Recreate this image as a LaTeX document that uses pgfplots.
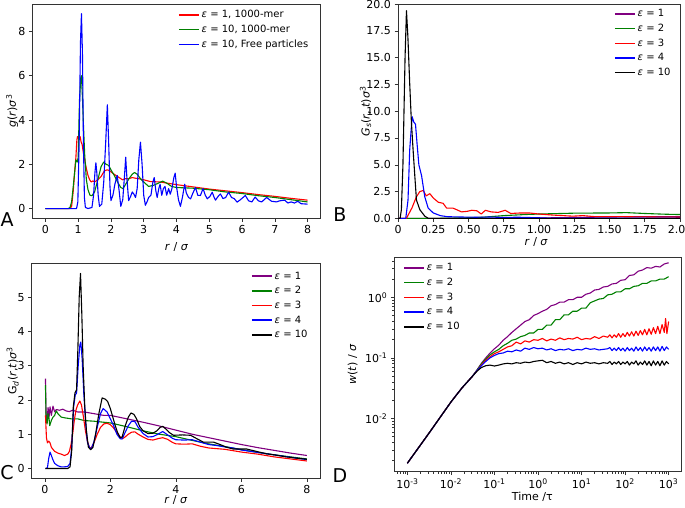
\documentclass[border=0pt]{standalone}
\usepackage{fontspec}
\setmainfont{DejaVu Sans}
\usepackage{pgfplots}
\pgfplotsset{compat=1.18}
\definecolor{mplgreen}{RGB}{0,128,0}
\definecolor{mplpurple}{RGB}{128,0,128}
\pgfplotsset{
 panel/.style={
  scale only axis,
  axis line style={black!80, line width=0.6pt},
  tick style={black!80, line width=0.6pt},
  tick align=outside,
  major tick length=3.5pt,
  minor tick length=2pt,
  xtick pos=left, ytick pos=left,
  /pgf/number format/assume math mode=true,
  tick label style={font=\fontsize{11}{13}\selectfont},
  label style={font=\fontsize{11}{13}\selectfont},
  every axis plot/.append style={line width=1.1pt, line join=round},
  legend style={draw=none, fill=none, font=\fontsize{10}{12}\selectfont, row sep=1.8pt},
  legend cell align=left,
  legend image code/.code={\draw[##1, line width=1.6pt] (0pt,0pt) -- (20pt,0pt);},
 }
}
\begin{document}
\begin{tikzpicture}[x=1pt,y=1pt]
\useasboundingbox (0pt,0pt) rectangle (685pt,507pt);
% ---------------- Panel A ----------------
\begin{axis}[panel, at={(32.3pt,288.7pt)}, anchor=south west, width=288.4pt, height=214.3pt,
  xmin=-0.4, xmax=8.4, ymin=-0.44, ymax=9.24,
  xtick={0,1,2,3,4,5,6,7,8}, ytick={0,2,4,6,8},
  xlabel={\textit{r} / \textit{σ}}, ylabel={\textit{g}(\textit{r})\textit{σ}\textsuperscript{3}},
  xlabel style={at={(axis description cs:0.5,-0.134)}, anchor=center},
  ylabel style={at={(axis description cs:-0.07,0.5)}, anchor=center},
  legend style={at={(0.975,0.99)}, anchor=north east}]
\addplot[red] coordinates {(0,0) (0.5,0) (0.75,0) (0.8,0.1) (0.85,0.8) (0.9,1.8) (0.93,2.3) (0.96,3.1) (0.98,3.25) (1.0,3.2) (1.03,3.1) (1.06,3.25) (1.09,3.0) (1.12,2.9) (1.16,2.5) (1.2,2.2) (1.25,1.8) (1.3,1.5) (1.35,1.3) (1.4,1.2) (1.45,1.25) (1.5,1.2) (1.55,1.25) (1.6,1.3) (1.7,1.45) (1.8,1.7) (1.88,1.75) (1.95,1.72) (2.05,1.6) (2.15,1.5) (2.25,1.4) (2.35,1.3) (2.45,1.35) (2.55,1.35) (2.65,1.4) (2.75,1.37) (2.85,1.35) (3.0,1.3) (3.2,1.22) (3.5,1.2) (4.0,1.08) (4.5,0.98) (5.0,0.88) (5.5,0.8) (6.0,0.72) (6.5,0.63) (7.0,0.55) (7.5,0.46) (8.0,0.38)};
\addlegendentry{\textit{ε} = 1, 1000-mer}
\addplot[mplgreen] coordinates {(0,0) (0.7,0) (0.75,0.05) (0.8,0.3) (0.85,1.0) (0.89,1.6) (0.93,2.2) (0.97,2.1) (1.0,2.3) (1.04,4.9) (1.08,5.9) (1.1,6.0) (1.13,5.0) (1.16,3.8) (1.2,2.4) (1.25,1.3) (1.3,0.85) (1.36,0.6) (1.42,0.58) (1.5,0.75) (1.6,1.3) (1.7,1.9) (1.78,2.1) (1.85,2.0) (1.93,1.95) (2.0,1.75) (2.1,1.5) (2.2,1.2) (2.3,0.95) (2.37,0.9) (2.45,1.1) (2.55,1.35) (2.65,1.55) (2.72,1.63) (2.8,1.55) (2.9,1.35) (3.0,1.2) (3.15,1.0) (3.3,1.05) (3.45,1.15) (3.58,1.24) (3.7,1.15) (3.85,1.0) (4.0,0.95) (4.5,0.92) (5.0,0.85) (5.5,0.75) (6.0,0.68) (6.5,0.58) (7.0,0.5) (7.5,0.4) (8.0,0.3)};
\addlegendentry{\textit{ε} = 10, 1000-mer}
\addplot[blue] coordinates {(0,0) (0.95,0) (0.99,0.3) (1.03,3.0) (1.07,7.5) (1.1,8.8) (1.13,7.0) (1.16,3.0) (1.19,0.5) (1.22,0.05) (1.3,0) (1.42,0.05) (1.47,0.6) (1.51,1.6) (1.54,2.07) (1.57,1.6) (1.61,0.6) (1.65,0.1) (1.72,0.2) (1.78,1.2) (1.84,3.0) (1.89,4.69) (1.93,3.0) (1.97,1.0) (2.0,0.36) (2.06,0.6) (2.12,1.1) (2.19,1.5) (2.25,0.8) (2.3,0.1) (2.36,0.4) (2.41,1.4) (2.45,2.32) (2.49,1.3) (2.54,0.36) (2.6,0.55) (2.65,0.75) (2.7,0.65) (2.75,0.5) (2.8,0.9) (2.85,2.2) (2.9,3.0) (2.95,2.0) (3.0,0.6) (3.05,0.15) (3.1,0.3) (3.15,0.5) (3.22,0.6) (3.28,1.2) (3.32,1.4) (3.37,0.8) (3.41,0.5) (3.46,0.9) (3.5,1.1) (3.55,0.6) (3.6,0.9) (3.65,1.0) (3.7,0.6) (3.76,0.9) (3.81,0.65) (3.86,0.9) (3.92,1.4) (3.96,1.6) (4.0,1.0) (4.06,0.4) (4.12,0.1) (4.18,0.5) (4.25,1.1) (4.3,0.7) (4.37,0.5) (4.43,0.44) (4.5,0.7) (4.58,0.95) (4.65,0.6) (4.73,0.59) (4.81,0.9) (4.88,0.6) (4.94,0.44) (5.02,0.55) (5.09,0.74) (5.15,0.5) (5.19,0.38) (5.27,0.55) (5.34,0.66) (5.42,0.45) (5.5,0.5) (5.59,0.74) (5.68,0.5) (5.76,0.45) (5.85,0.29) (5.95,0.4) (6.1,0.59) (6.2,0.35) (6.3,0.3) (6.4,0.52) (6.5,0.35) (6.6,0.3) (6.75,0.5) (6.9,0.33) (7.05,0.3) (7.15,0.35) (7.3,0.38) (7.4,0.25) (7.5,0.3) (7.6,0.25) (7.7,0.33) (7.8,0.22) (7.89,0.21) (8.0,0.2)};
\addlegendentry{\textit{ε} = 10, Free particles}
\end{axis}
% ---------------- Panel B ----------------
\begin{axis}[panel, at={(398pt,288.7pt)}, anchor=south west, width=282pt, height=214pt,
  xmin=0, xmax=2, ymin=0, ymax=20,
  xtick={0,0.25,0.5,0.75,1,1.25,1.5,1.75,2},
  xticklabels={0,0.25,0.50,0.75,1.00,1.25,1.50,1.75,2.00},
  ytick={0,2.5,5,7.5,10,12.5,15,17.5,20},
  yticklabels={0.0,2.5,5.0,7.5,10.0,12.5,15.0,17.5,20.0},
  xlabel={\textit{r} / \textit{σ}}, ylabel={\textit{G}\textsubscript{\textit{s}}(\textit{r}, \textit{t})\textit{σ}\textsuperscript{3}},
  xlabel style={at={(axis description cs:0.49,-0.11)}, anchor=center},
  ylabel style={at={(axis description cs:-0.115,0.5)}, anchor=center},
  legend style={at={(0.985,0.995)}, anchor=north east}]
\addplot[mplpurple] coordinates {(0,0) (0.8,0) (1.0,0.03) (1.25,0.08) (1.5,0.12) (1.75,0.15) (2.0,0.15)};
\addlegendentry{\textit{ε} = 1}
\addplot[mplgreen] coordinates {(0,0) (0.3,0) (0.5,0.05) (0.6,0.1) (0.75,0.25) (0.9,0.35) (1.0,0.4) (1.25,0.48) (1.5,0.5) (1.62,0.53) (1.75,0.45) (1.9,0.38) (2.0,0.35)};
\addlegendentry{\textit{ε} = 2}
\addplot[red] coordinates {(0,0) (0.06,0) (0.1,1.0) (0.13,2.0) (0.155,2.5) (0.179,2.6) (0.2,2.1) (0.226,2.3) (0.25,1.9) (0.286,1.5) (0.32,1.4) (0.345,0.95) (0.39,0.95) (0.417,0.8) (0.45,0.6) (0.49,0.65) (0.524,0.75) (0.56,0.7) (0.59,0.4) (0.62,0.75) (0.66,0.6) (0.71,0.55) (0.76,0.75) (0.8,0.45) (0.87,0.5) (0.93,0.5) (1.0,0.4) (1.05,0.35) (1.1,0.3) (1.24,0.2) (1.31,0.25) (1.4,0.15) (1.6,0.15) (1.8,0.12) (2.0,0.1)};
\addlegendentry{\textit{ε} = 3}
\addplot[blue] coordinates {(0,0) (0.055,0) (0.071,1.7) (0.083,6.4) (0.1,9.5) (0.112,9.0) (0.124,8.8) (0.135,7.0) (0.148,5.0) (0.167,4.0) (0.19,2.0) (0.214,0.95) (0.25,0.5) (0.3,0.25) (0.35,0.15) (0.45,0.12) (0.55,0.1) (0.65,0.12) (0.75,0.08) (0.85,0.1) (1.0,0.05) (1.1,0) (2.0,0.02)};
\addlegendentry{\textit{ε} = 4}
\addplot[black] coordinates {(0,0) (0.015,0) (0.024,0.8) (0.035,5) (0.05,15) (0.06,19.4) (0.07,17) (0.083,12.6) (0.095,9) (0.107,6.4) (0.12,3.8) (0.131,1.7) (0.155,0.8) (0.19,0.2) (0.214,0) (2.0,0)};
\addlegendentry{\textit{ε} = 10}
\end{axis}
% ---------------- Panel C ----------------
\begin{axis}[panel, at={(31.7pt,28.7pt)}, anchor=south west, width=288.3pt, height=215pt,
  xmin=-0.4, xmax=8.4, ymin=-0.285, ymax=5.985,
  xtick={0,2,4,6,8}, ytick={0,1,2,3,4,5},
  xlabel={\textit{r} / \textit{σ}}, ylabel={G\textsubscript{\textit{d}}(\textit{r},\textit{t})\textit{σ}\textsuperscript{3}},
  xlabel style={at={(axis description cs:0.5,-0.10)}, anchor=center},
  ylabel style={at={(axis description cs:-0.066,0.5)}, anchor=center},
  legend style={at={(0.975,0.98)}, anchor=north east}]
\addplot[mplpurple] coordinates {(0.02,2.62) (0.04,1.5) (0.07,1.4) (0.1,1.78) (0.13,1.5) (0.16,1.8) (0.2,1.55) (0.25,1.82) (0.3,1.65) (0.35,1.72) (0.45,1.7) (0.55,1.73) (0.65,1.68) (0.75,1.66) (0.85,1.7) (1.0,1.65) (1.2,1.65) (1.5,1.6) (1.8,1.55) (2.0,1.55) (2.5,1.45) (3.0,1.35) (3.5,1.24) (4.0,1.12) (4.5,1.0) (5.0,0.9) (5.5,0.8) (6.0,0.7) (6.5,0.61) (7.0,0.53) (7.5,0.45) (8.0,0.38)};
\addlegendentry{\textit{ε} = 1}
\addplot[mplgreen] coordinates {(0.02,2.43) (0.04,1.4) (0.07,1.3) (0.1,1.6) (0.13,1.45) (0.15,1.25) (0.2,1.4) (0.25,1.5) (0.3,1.55) (0.35,1.68) (0.4,1.6) (0.5,1.5) (0.6,1.48) (0.8,1.45) (1.0,1.45) (1.2,1.4) (1.5,1.38) (1.8,1.35) (2.0,1.33) (2.5,1.22) (3.0,1.1) (3.5,1.0) (4.0,0.93) (4.5,0.82) (5.0,0.72) (5.5,0.64) (6.0,0.55) (6.5,0.47) (7.0,0.4) (7.5,0.34) (8.0,0.28)};
\addlegendentry{\textit{ε} = 2}
\addplot[red] coordinates {(0.02,1.55) (0.05,0.9) (0.08,0.75) (0.12,0.8) (0.16,0.75) (0.2,0.62) (0.3,0.5) (0.4,0.45) (0.5,0.42) (0.6,0.38) (0.7,0.42) (0.75,0.5) (0.8,0.7) (0.85,1.0) (0.9,1.4) (0.95,1.7) (1.0,1.85) (1.07,1.97) (1.12,1.85) (1.18,1.5) (1.24,1.1) (1.3,0.8) (1.36,0.62) (1.42,0.6) (1.5,0.75) (1.6,1.0) (1.7,1.2) (1.8,1.3) (1.9,1.32) (2.0,1.28) (2.1,1.18) (2.2,1.05) (2.3,0.92) (2.37,0.87) (2.45,0.92) (2.55,1.0) (2.65,1.06) (2.75,1.07) (2.85,1.0) (3.0,0.92) (3.15,0.85) (3.3,0.83) (3.45,0.87) (3.6,0.9) (3.75,0.85) (3.9,0.76) (4.0,0.72) (4.25,0.71) (4.5,0.72) (4.75,0.65) (5.0,0.6) (5.25,0.58) (5.5,0.56) (5.75,0.52) (6.0,0.48) (6.5,0.42) (7.0,0.34) (7.5,0.28) (8.0,0.22)};
\addlegendentry{\textit{ε} = 3}
\addplot[blue] coordinates {(0.02,0) (0.08,0.02) (0.12,0.3) (0.16,0.48) (0.2,0.38) (0.25,0.25) (0.3,0.15) (0.4,0.08) (0.5,0.05) (0.6,0.05) (0.7,0.06) (0.77,0.15) (0.82,0.6) (0.88,1.8) (0.93,2.15) (0.97,2.2) (1.02,3.0) (1.07,3.6) (1.1,3.69) (1.14,3.2) (1.19,2.2) (1.25,1.3) (1.3,0.77) (1.37,0.6) (1.42,0.58) (1.5,0.78) (1.6,1.2) (1.7,1.6) (1.78,1.75) (1.9,1.65) (2.0,1.45) (2.1,1.25) (2.2,1.0) (2.3,0.87) (2.36,0.86) (2.45,1.05) (2.55,1.25) (2.65,1.38) (2.75,1.37) (2.85,1.2) (3.0,1.02) (3.15,0.92) (3.3,0.93) (3.45,1.0) (3.6,1.08) (3.75,0.98) (3.9,0.88) (4.0,0.84) (4.25,0.83) (4.5,0.84) (4.75,0.77) (5.0,0.7) (5.25,0.67) (5.5,0.63) (5.75,0.6) (6.0,0.54) (6.5,0.47) (7.0,0.4) (7.5,0.33) (8.0,0.26)};
\addlegendentry{\textit{ε} = 4}
\addplot[black] coordinates {(0.02,0) (0.7,0) (0.77,0.05) (0.82,0.5) (0.87,1.8) (0.92,2.2) (0.97,2.3) (1.01,3.5) (1.05,5.0) (1.09,5.69) (1.13,4.5) (1.17,3.0) (1.22,1.8) (1.27,1.1) (1.33,0.62) (1.4,0.55) (1.47,0.62) (1.55,1.0) (1.65,1.6) (1.75,2.06) (1.85,2.02) (1.92,1.95) (2.0,1.75) (2.06,1.55) (2.15,1.25) (2.22,1.05) (2.3,0.9) (2.36,0.92) (2.46,1.26) (2.55,1.5) (2.63,1.62) (2.72,1.58) (2.8,1.45) (2.9,1.22) (3.0,1.1) (3.15,1.02) (3.3,1.03) (3.42,1.1) (3.52,1.2) (3.6,1.23) (3.7,1.15) (3.8,1.05) (3.93,0.97) (4.2,0.98) (4.45,0.97) (4.64,0.87) (4.84,0.77) (5.15,0.77) (5.35,0.7) (5.55,0.62) (5.75,0.57) (6.16,0.57) (6.5,0.49) (6.77,0.43) (7.0,0.4) (7.37,0.34) (7.7,0.3) (8.0,0.27)};
\addlegendentry{\textit{ε} = 10}
\end{axis}
% ---------------- Panel D (log10 values on linear axes) ----------------
\begin{axis}[panel, at={(394.3pt,35.3pt)}, anchor=south west, width=287.4pt, height=214.4pt,
  xmin=-3.3, xmax=3.3, ymin=-2.88, ymax=0.66,
  xtick={-3,-2,-1,0,1,2,3},
  xticklabels={10\textsuperscript{-3},10\textsuperscript{-2},10\textsuperscript{-1},10\textsuperscript{0},10\textsuperscript{1},10\textsuperscript{2},10\textsuperscript{3}},
  ytick={-2,-1,0},
  yticklabels={10\textsuperscript{-2},10\textsuperscript{-1},10\textsuperscript{0}},
  minor xtick={-3.222,-3.155,-3.097,-3.046,-2.699,-2.523,-2.398,-2.301,-2.222,-2.155,-2.097,-2.046,-1.699,-1.523,-1.398,-1.301,-1.222,-1.155,-1.097,-1.046,-0.699,-0.523,-0.398,-0.301,-0.222,-0.155,-0.097,-0.046,0.301,0.477,0.602,0.699,0.778,0.845,0.903,0.954,1.301,1.477,1.602,1.699,1.778,1.845,1.903,1.954,2.301,2.477,2.602,2.699,2.778,2.845,2.903,2.954},
  minor ytick={-2.699,-2.523,-2.398,-2.301,-2.222,-2.155,-2.097,-2.046,-1.699,-1.523,-1.398,-1.301,-1.222,-1.155,-1.097,-1.046,-0.699,-0.523,-0.398,-0.301,-0.222,-0.155,-0.097,-0.046,0.301,0.477,0.602},
  xlabel={Time /τ}, ylabel={\textit{w}(\textit{t}) / \textit{σ}},
  xlabel style={at={(axis description cs:0.48,-0.118)}, anchor=center},
  ylabel style={at={(axis description cs:-0.145,0.5)}, anchor=center},
  legend style={at={(0.02,0.99)}, anchor=north west}]
\addplot[mplpurple] coordinates {(-3,-2.74) (-2.5,-2.24) (-2,-1.73) (-1.75,-1.5) (-1.5,-1.3) (-1.4,-1.2) (-1.3,-1.09) (-1.2,-1.0) (-1.1,-0.92) (-1.0,-0.85) (-0.9,-0.79) (-0.8,-0.71) (-0.7,-0.65) (-0.6,-0.58) (-0.5,-0.52) (-0.4,-0.46) (-0.3,-0.4) (-0.2,-0.37) (-0.1,-0.3) (0.0,-0.27) (0.1,-0.23) (0.2,-0.2) (0.3,-0.14) (0.4,-0.12) (0.5,-0.08) (0.6,-0.08) (0.7,-0.04) (0.8,-0.04) (0.9,0.0) (1.0,0.0) (1.1,0.05) (1.2,0.07) (1.3,0.12) (1.4,0.13) (1.5,0.17) (1.6,0.18) (1.7,0.22) (1.8,0.23) (1.9,0.28) (2.0,0.29) (2.1,0.36) (2.2,0.37) (2.3,0.43) (2.4,0.45) (2.5,0.49) (2.6,0.48) (2.7,0.51) (2.8,0.5) (2.9,0.55) (3.0,0.57)};
\addlegendentry{\textit{ε} = 1}
\addplot[mplgreen] coordinates {(-3,-2.74) (-2.5,-2.24) (-2,-1.73) (-1.75,-1.5) (-1.5,-1.3) (-1.4,-1.2) (-1.3,-1.1) (-1.2,-1.02) (-1.1,-0.95) (-1.0,-0.9) (-0.9,-0.86) (-0.8,-0.8) (-0.7,-0.76) (-0.6,-0.71) (-0.5,-0.69) (-0.4,-0.65) (-0.3,-0.63) (-0.2,-0.59) (-0.1,-0.59) (0.0,-0.53) (0.1,-0.53) (0.2,-0.46) (0.3,-0.46) (0.4,-0.37) (0.5,-0.37) (0.6,-0.29) (0.7,-0.29) (0.8,-0.23) (0.9,-0.23) (1.0,-0.18) (1.1,-0.18) (1.2,-0.09) (1.3,-0.06) (1.4,-0.03) (1.5,-0.02) (1.6,0.04) (1.7,0.05) (1.8,0.09) (1.9,0.09) (2.0,0.14) (2.1,0.14) (2.2,0.18) (2.3,0.19) (2.4,0.23) (2.5,0.23) (2.6,0.27) (2.7,0.27) (2.8,0.3) (2.9,0.3) (3.0,0.34)};
\addlegendentry{\textit{ε} = 2}
\addplot[red] coordinates {(-3,-2.74) (-2.5,-2.24) (-2,-1.73) (-1.75,-1.5) (-1.5,-1.3) (-1.4,-1.21) (-1.3,-1.12) (-1.2,-1.04) (-1.1,-0.98) (-1.0,-0.93) (-0.9,-0.9) (-0.8,-0.86) (-0.7,-0.82) (-0.6,-0.8) (-0.5,-0.74) (-0.4,-0.77) (-0.3,-0.72) (-0.2,-0.74) (-0.1,-0.7) (0.0,-0.71) (0.1,-0.68) (0.2,-0.72) (0.3,-0.69) (0.4,-0.71) (0.5,-0.67) (0.6,-0.7) (0.7,-0.68) (0.8,-0.69) (0.9,-0.66) (1.0,-0.7) (1.1,-0.68) (1.2,-0.69) (1.3,-0.65) (1.4,-0.68) (1.5,-0.64) (1.6,-0.66) (1.65,-0.62) (1.7,-0.67) (1.75,-0.62) (1.8,-0.66) (1.85,-0.6) (1.9,-0.66) (1.95,-0.6) (2.0,-0.65) (2.05,-0.58) (2.1,-0.64) (2.15,-0.57) (2.2,-0.64) (2.25,-0.56) (2.3,-0.63) (2.35,-0.55) (2.4,-0.62) (2.45,-0.53) (2.5,-0.62) (2.55,-0.52) (2.6,-0.61) (2.65,-0.5) (2.7,-0.6) (2.75,-0.48) (2.8,-0.6) (2.85,-0.45) (2.9,-0.58) (2.93,-0.35) (2.96,-0.6) (3.0,-0.4)};
\addlegendentry{\textit{ε} = 3}
\addplot[blue] coordinates {(-3,-2.74) (-2.5,-2.24) (-2,-1.73) (-1.75,-1.5) (-1.5,-1.3) (-1.4,-1.21) (-1.3,-1.13) (-1.2,-1.06) (-1.1,-1.0) (-1.0,-0.96) (-0.9,-0.93) (-0.8,-0.92) (-0.7,-0.89) (-0.6,-0.9) (-0.5,-0.87) (-0.4,-0.89) (-0.3,-0.84) (-0.2,-0.86) (-0.1,-0.83) (0.0,-0.85) (0.1,-0.84) (0.2,-0.87) (0.3,-0.85) (0.4,-0.88) (0.5,-0.86) (0.6,-0.87) (0.7,-0.85) (0.8,-0.88) (0.9,-0.86) (1.0,-0.87) (1.1,-0.84) (1.2,-0.86) (1.3,-0.85) (1.4,-0.87) (1.5,-0.86) (1.6,-0.85) (1.65,-0.83) (1.7,-0.88) (1.75,-0.84) (1.8,-0.88) (1.85,-0.83) (1.9,-0.88) (1.95,-0.84) (2.0,-0.89) (2.05,-0.83) (2.1,-0.88) (2.15,-0.84) (2.2,-0.89) (2.25,-0.82) (2.3,-0.88) (2.35,-0.83) (2.4,-0.89) (2.45,-0.82) (2.5,-0.88) (2.55,-0.83) (2.6,-0.89) (2.65,-0.82) (2.7,-0.88) (2.75,-0.82) (2.8,-0.89) (2.85,-0.81) (2.9,-0.88) (2.95,-0.82) (3.0,-0.86)};
\addlegendentry{\textit{ε} = 4}
\addplot[black] coordinates {(-3,-2.74) (-2.5,-2.24) (-2,-1.73) (-1.75,-1.5) (-1.5,-1.3) (-1.4,-1.22) (-1.3,-1.16) (-1.2,-1.13) (-1.1,-1.12) (-1.0,-1.135) (-0.9,-1.12) (-0.8,-1.1) (-0.7,-1.09) (-0.6,-1.1) (-0.5,-1.08) (-0.4,-1.09) (-0.3,-1.07) (-0.2,-1.08) (-0.1,-1.06) (0.0,-1.05) (0.1,-1.04) (0.2,-1.08) (0.3,-1.06) (0.4,-1.09) (0.5,-1.07) (0.6,-1.1) (0.7,-1.08) (0.8,-1.11) (0.9,-1.08) (1.0,-1.1) (1.1,-1.07) (1.2,-1.09) (1.3,-1.08) (1.4,-1.1) (1.5,-1.08) (1.6,-1.09) (1.65,-1.06) (1.7,-1.11) (1.75,-1.07) (1.8,-1.1) (1.85,-1.06) (1.9,-1.11) (1.95,-1.07) (2.0,-1.1) (2.05,-1.06) (2.1,-1.12) (2.15,-1.07) (2.2,-1.1) (2.25,-1.05) (2.3,-1.12) (2.35,-1.07) (2.4,-1.11) (2.45,-1.05) (2.5,-1.12) (2.55,-1.06) (2.6,-1.13) (2.65,-1.05) (2.7,-1.12) (2.75,-1.06) (2.8,-1.13) (2.85,-1.05) (2.9,-1.12) (2.95,-1.06) (3.0,-1.1)};
\addlegendentry{\textit{ε} = 10}
\end{axis}
% ---------------- Panel letters ----------------
\node[font=\fontsize{19}{22}\selectfont] at (7pt,287pt) {A};
\node[font=\fontsize{19}{22}\selectfont] at (340pt,292pt) {B};
\node[font=\fontsize{19}{22}\selectfont] at (7pt,34pt) {C};
\node[font=\fontsize{19}{22}\selectfont] at (340pt,31pt) {D};
\end{tikzpicture}
\end{document}
